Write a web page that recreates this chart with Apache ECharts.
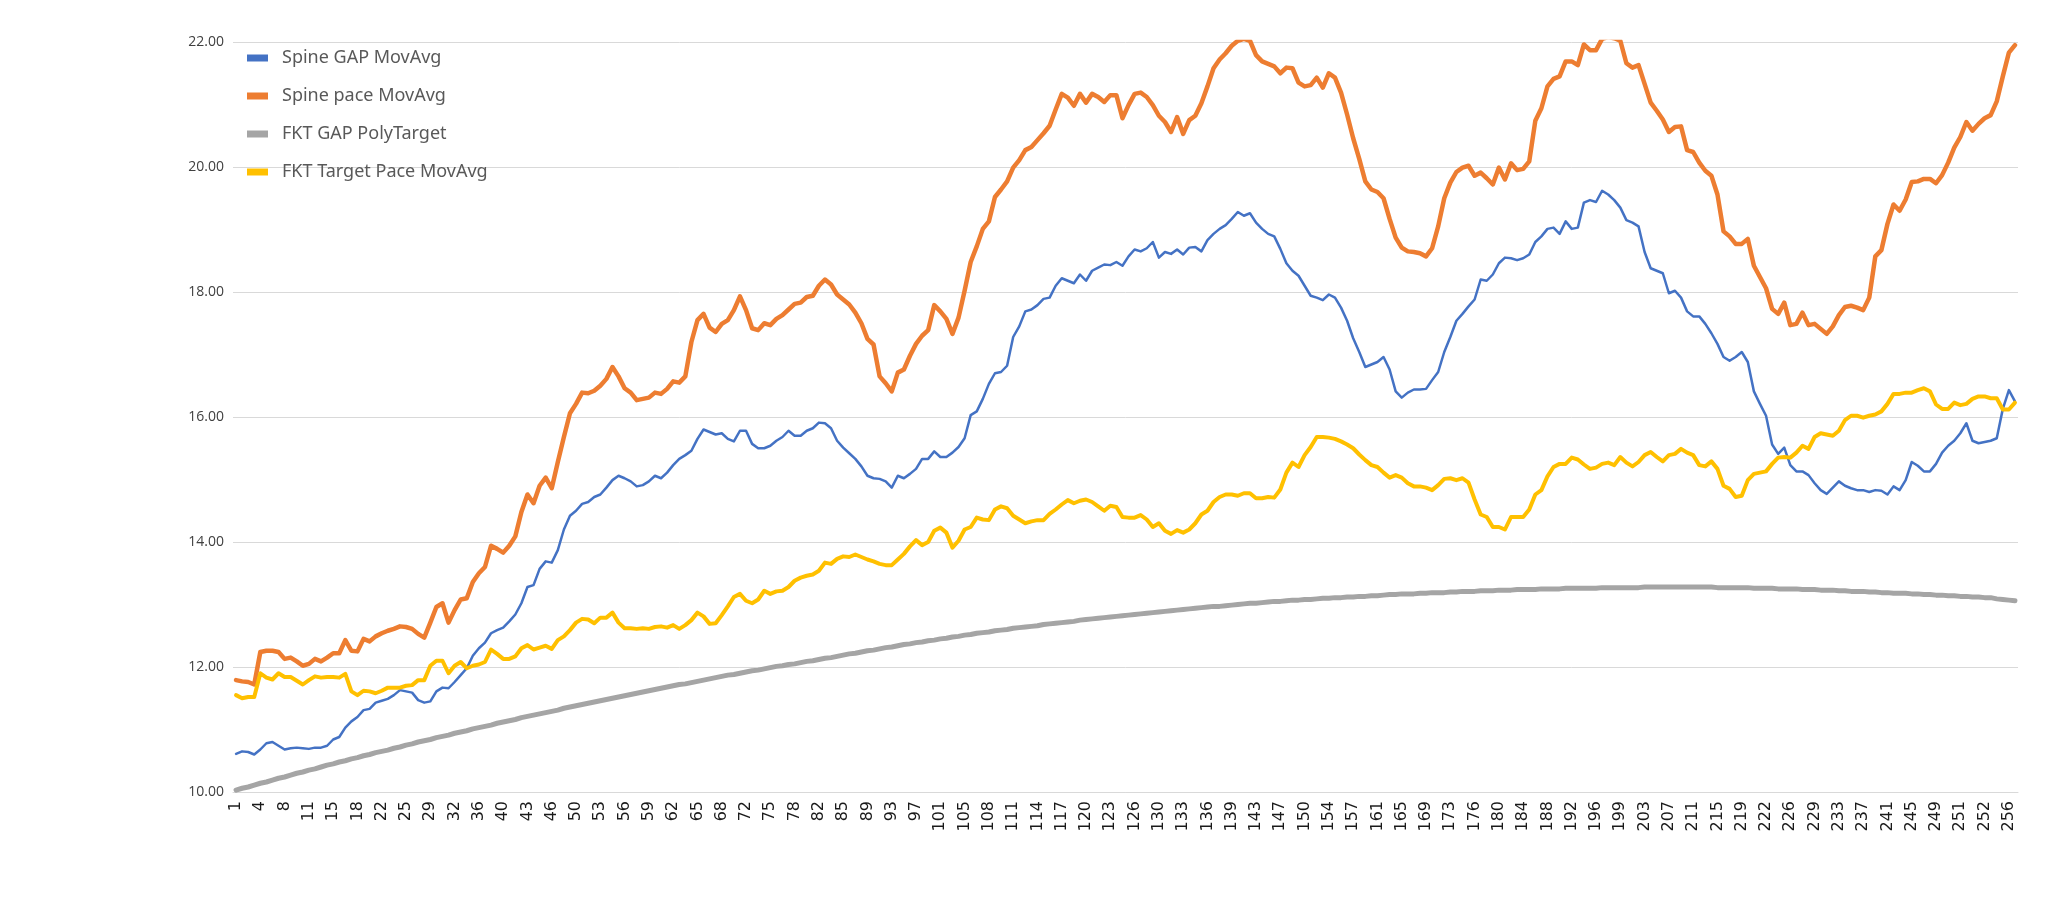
<!DOCTYPE html>
<html>
<head>
<meta charset="utf-8">
<script src="https://cdn.jsdelivr.net/npm/echarts@6/dist/echarts.min.js"></script>
<style>
html,body{margin:0;padding:0;background:#fff;}
#chart{width:2047px;height:903px;}
</style>
</head>
<body>
<div id="chart"></div>
<script>
// Tick labels shown on the category axis (every 4th category)
const tickLabels = [1,4,8,11,15,18,22,25,29,32,36,40,43,46,50,53,56,59,62,65,68,72,75,78,82,85,89,93,97,101,105,108,111,114,117,120,123,126,130,133,136,139,143,147,150,154,157,161,165,169,173,176,180,184,188,192,196,199,203,207,211,215,219,222,226,229,233,237,241,245,249,251,252,256];
const categoryCount = 294;

const seriesNames = ['Spine GAP MovAvg','Spine pace MovAvg','FKT GAP PolyTarget','FKT Target Pace MovAvg'];

const spineGap = [
10.61,10.65,10.64,10.60,10.68,10.78,10.80,10.74,10.68,10.70,
10.71,10.70,10.69,10.71,10.71,10.74,10.84,10.88,11.03,11.13,
11.20,11.31,11.33,11.43,11.46,11.49,11.55,11.63,11.61,11.59,
11.47,11.43,11.45,11.61,11.67,11.66,11.76,11.87,11.98,12.18,
12.30,12.39,12.54,12.59,12.63,12.73,12.84,13.02,13.28,13.31,
13.57,13.69,13.67,13.87,14.20,14.42,14.50,14.61,14.64,14.72,
14.76,14.87,14.99,15.06,15.02,14.97,14.89,14.91,14.97,15.06,
15.02,15.11,15.23,15.33,15.39,15.46,15.65,15.80,15.76,15.72,
15.74,15.65,15.61,15.78,15.78,15.57,15.50,15.50,15.54,15.62,
15.68,15.78,15.70,15.70,15.78,15.82,15.91,15.90,15.82,15.62,
15.51,15.42,15.33,15.21,15.06,15.02,15.01,14.97,14.87,15.06,
15.02,15.09,15.17,15.33,15.33,15.45,15.36,15.36,15.43,15.52,
15.66,16.03,16.09,16.29,16.53,16.70,16.72,16.82,17.28,17.45,
17.69,17.72,17.79,17.89,17.91,18.10,18.22,18.18,18.14,18.28,
18.18,18.34,18.39,18.44,18.43,18.48,18.42,18.57,18.68,18.65,
18.70,18.80,18.55,18.64,18.61,18.68,18.60,18.71,18.72,18.65,
18.83,18.93,19.01,19.07,19.17,19.28,19.22,19.26,19.11,19.01,
18.93,18.89,18.69,18.46,18.34,18.26,18.10,17.94,17.91,17.87,
17.96,17.91,17.75,17.54,17.26,17.04,16.80,16.84,16.88,16.96,
16.76,16.41,16.31,16.39,16.44,16.44,16.45,16.59,16.72,17.04,
17.28,17.54,17.65,17.77,17.88,18.20,18.18,18.28,18.46,18.55,
18.54,18.51,18.54,18.60,18.80,18.89,19.01,19.03,18.93,19.13,
19.01,19.03,19.43,19.47,19.44,19.62,19.56,19.47,19.35,19.15,
19.11,19.05,18.64,18.38,18.34,18.30,17.98,18.02,17.91,17.69,
17.61,17.61,17.49,17.34,17.17,16.96,16.90,16.96,17.04,16.88,
16.41,16.21,16.02,15.56,15.41,15.51,15.23,15.13,15.13,15.07,
14.94,14.83,14.77,14.87,14.97,14.90,14.86,14.83,14.83,14.80,
14.83,14.82,14.76,14.89,14.83,14.99,15.28,15.22,15.13,15.13,
15.25,15.43,15.54,15.62,15.74,15.90,15.62,15.58,15.60,15.62,
15.66,16.13,16.43,16.25
];

const spinePace = [
11.79,11.77,11.76,11.72,12.24,12.26,12.26,12.24,12.13,12.15,
12.09,12.02,12.05,12.13,12.09,12.15,12.22,12.22,12.43,12.26,
12.25,12.45,12.41,12.49,12.54,12.58,12.61,12.65,12.64,12.61,
12.53,12.47,12.71,12.96,13.02,12.71,12.91,13.08,13.10,13.36,
13.50,13.60,13.94,13.89,13.83,13.94,14.09,14.48,14.76,14.62,
14.90,15.03,14.86,15.28,15.68,16.06,16.21,16.39,16.38,16.42,
16.50,16.61,16.80,16.65,16.46,16.39,16.27,16.29,16.31,16.39,
16.37,16.45,16.57,16.55,16.65,17.20,17.55,17.65,17.43,17.36,
17.49,17.55,17.71,17.93,17.71,17.42,17.39,17.50,17.47,17.57,
17.63,17.72,17.81,17.83,17.92,17.94,18.10,18.20,18.12,17.96,
17.88,17.80,17.67,17.50,17.25,17.16,16.65,16.54,16.41,16.71,
16.76,16.98,17.17,17.30,17.39,17.79,17.69,17.57,17.33,17.59,
18.02,18.48,18.73,19.01,19.13,19.52,19.64,19.77,19.99,20.11,
20.27,20.32,20.43,20.54,20.66,20.92,21.17,21.11,20.98,21.17,
21.03,21.17,21.12,21.04,21.15,21.15,20.78,20.99,21.17,21.19,
21.12,20.99,20.82,20.72,20.56,20.80,20.53,20.75,20.82,21.02,
21.29,21.58,21.72,21.82,21.94,22.02,22.05,22.02,21.79,21.69,
21.65,21.61,21.50,21.59,21.58,21.35,21.29,21.31,21.43,21.27,
21.50,21.43,21.19,20.84,20.46,20.13,19.77,19.64,19.60,19.50,
19.17,18.87,18.71,18.65,18.64,18.62,18.57,18.70,19.05,19.50,
19.75,19.92,19.99,20.02,19.86,19.91,19.82,19.72,19.99,19.80,
20.06,19.95,19.97,20.09,20.74,20.94,21.29,21.41,21.45,21.69,
21.69,21.63,21.96,21.87,21.87,22.05,22.08,22.06,22.02,21.66,
21.59,21.63,21.33,21.03,20.90,20.76,20.56,20.64,20.65,20.27,
20.24,20.07,19.94,19.86,19.56,18.97,18.89,18.77,18.77,18.85,
18.42,18.24,18.06,17.73,17.65,17.83,17.47,17.49,17.67,17.47,
17.49,17.41,17.33,17.45,17.63,17.76,17.78,17.75,17.71,17.91,
18.57,18.67,19.09,19.40,19.30,19.48,19.76,19.77,19.81,19.81,
19.74,19.87,20.07,20.31,20.48,20.72,20.58,20.69,20.78,20.83,
21.05,21.45,21.83,21.95
];

const fktGapPoly = [
10.03,10.06,10.08,10.11,10.14,10.16,10.19,10.22,10.24,10.27,
10.30,10.32,10.35,10.37,10.40,10.43,10.45,10.48,10.50,10.53,
10.55,10.58,10.60,10.63,10.65,10.67,10.70,10.72,10.75,10.77,
10.80,10.82,10.84,10.87,10.89,10.91,10.94,10.96,10.98,11.01,
11.03,11.05,11.07,11.10,11.12,11.14,11.16,11.19,11.21,11.23,
11.25,11.27,11.29,11.31,11.34,11.36,11.38,11.40,11.42,11.44,
11.46,11.48,11.50,11.52,11.54,11.56,11.58,11.60,11.62,11.64,
11.66,11.68,11.70,11.72,11.73,11.75,11.77,11.79,11.81,11.83,
11.85,11.87,11.88,11.90,11.92,11.94,11.95,11.97,11.99,12.01,
12.02,12.04,12.05,12.07,12.09,12.10,12.12,12.14,12.15,12.17,
12.19,12.21,12.22,12.24,12.26,12.27,12.29,12.31,12.32,12.34,
12.36,12.37,12.39,12.40,12.42,12.43,12.45,12.46,12.48,12.49,
12.51,12.52,12.54,12.55,12.56,12.58,12.59,12.60,12.62,12.63,
12.64,12.65,12.66,12.68,12.69,12.70,12.71,12.72,12.73,12.75,
12.76,12.77,12.78,12.79,12.80,12.81,12.82,12.83,12.84,12.85,
12.86,12.87,12.88,12.89,12.90,12.91,12.92,12.93,12.94,12.95,
12.96,12.97,12.97,12.98,12.99,13.00,13.01,13.02,13.02,13.03,
13.04,13.05,13.05,13.06,13.07,13.07,13.08,13.08,13.09,13.10,
13.10,13.11,13.11,13.12,13.12,13.13,13.13,13.14,13.14,13.15,
13.16,13.16,13.17,13.17,13.17,13.18,13.18,13.19,13.19,13.19,
13.20,13.20,13.21,13.21,13.21,13.22,13.22,13.22,13.23,13.23,
13.23,13.24,13.24,13.24,13.24,13.25,13.25,13.25,13.25,13.26,
13.26,13.26,13.26,13.26,13.26,13.27,13.27,13.27,13.27,13.27,
13.27,13.27,13.28,13.28,13.28,13.28,13.28,13.28,13.28,13.28,
13.28,13.28,13.28,13.28,13.27,13.27,13.27,13.27,13.27,13.27,
13.26,13.26,13.26,13.26,13.25,13.25,13.25,13.25,13.24,13.24,
13.24,13.23,13.23,13.23,13.22,13.22,13.21,13.21,13.21,13.20,
13.20,13.19,13.19,13.18,13.18,13.18,13.17,13.17,13.16,13.16,
13.15,13.15,13.14,13.14,13.13,13.13,13.12,13.12,13.11,13.11,
13.09,13.08,13.07,13.06
];

const fktTargetPace = [
11.55,11.50,11.52,11.52,11.90,11.83,11.80,11.90,11.84,11.84,
11.78,11.72,11.79,11.85,11.83,11.84,11.84,11.83,11.89,11.61,
11.55,11.62,11.61,11.58,11.62,11.67,11.67,11.67,11.70,11.71,
11.79,11.79,12.02,12.10,12.10,11.90,12.02,12.08,11.98,12.02,
12.04,12.08,12.28,12.21,12.13,12.13,12.17,12.30,12.35,12.28,
12.31,12.34,12.29,12.43,12.49,12.59,12.71,12.77,12.76,12.70,
12.79,12.79,12.87,12.71,12.62,12.62,12.61,12.62,12.61,12.64,
12.65,12.63,12.67,12.61,12.67,12.75,12.87,12.81,12.69,12.70,
12.83,12.97,13.12,13.17,13.06,13.02,13.08,13.22,13.17,13.21,
13.22,13.28,13.38,13.43,13.46,13.48,13.54,13.67,13.65,13.73,
13.77,13.76,13.80,13.76,13.72,13.69,13.65,13.63,13.63,13.72,
13.81,13.93,14.03,13.95,14.00,14.18,14.23,14.15,13.91,14.02,
14.20,14.24,14.39,14.36,14.35,14.52,14.57,14.54,14.42,14.36,
14.30,14.33,14.35,14.35,14.45,14.52,14.60,14.67,14.62,14.66,
14.68,14.64,14.57,14.50,14.58,14.56,14.40,14.39,14.39,14.43,
14.36,14.24,14.30,14.18,14.13,14.19,14.15,14.20,14.30,14.44,
14.50,14.64,14.72,14.76,14.76,14.74,14.78,14.78,14.70,14.70,
14.72,14.71,14.84,15.11,15.27,15.20,15.39,15.52,15.68,15.68,
15.67,15.65,15.61,15.56,15.50,15.40,15.31,15.23,15.20,15.11,
15.03,15.07,15.03,14.94,14.89,14.89,14.87,14.83,14.91,15.01,
15.02,14.99,15.02,14.95,14.68,14.44,14.40,14.24,14.24,14.20,
14.40,14.40,14.40,14.52,14.76,14.83,15.05,15.20,15.25,15.25,
15.35,15.32,15.24,15.17,15.19,15.25,15.27,15.23,15.36,15.27,
15.21,15.28,15.39,15.44,15.36,15.29,15.39,15.41,15.49,15.43,
15.39,15.23,15.21,15.29,15.17,14.90,14.85,14.72,14.74,14.99,
15.09,15.11,15.13,15.25,15.35,15.36,15.35,15.43,15.54,15.49,
15.68,15.74,15.72,15.70,15.78,15.95,16.02,16.02,15.99,16.02,
16.04,16.09,16.21,16.37,16.37,16.39,16.39,16.43,16.46,16.41,
16.20,16.13,16.13,16.23,16.19,16.21,16.29,16.33,16.33,16.30,
16.30,16.12,16.12,16.23
];

const colors = ['#4472C4','#ED7D31','#A5A5A5','#FFC000'];

// Category axis: one entry per data point, a tick label every 4th point
const categories = [];
for (let i = 0; i < categoryCount; i++) {
  categories.push(i % 4 === 0 ? String(tickLabels[i / 4]) : '');
}

const chart = echarts.init(document.getElementById('chart'), null, {renderer: 'canvas'});
const widths = [2.5, 4.5, 5, 4];
const datas = [spineGap, spinePace, fktGapPoly, fktTargetPace];

chart.setOption({
  animation: false,
  backgroundColor: '#ffffff',
  color: colors,
  grid: {left: 233, right: 29, top: 42, bottom: 111, containLabel: false},
  legend: {
    orient: 'vertical',
    left: 247,
    top: 48,
    padding: 0,
    itemGap: 18,
    itemWidth: 21,
    itemHeight: 7,
    icon: 'rect',
    data: seriesNames,
    textStyle: {color: '#595959', fontSize: 18, fontFamily: 'Noto Sans', lineHeight: 20, padding: [0, 0, 0, 9]}
  },
  xAxis: {
    type: 'category',
    data: categories,
    boundaryGap: true,
    axisLine: {show: true, lineStyle: {color: '#d9d9d9', width: 1}},
    axisTick: {show: false},
    splitLine: {show: false},
    axisLabel: {
      interval: 3,
      rotate: 90,
      margin: 9,
      color: '#1a1a1a',
      fontSize: 16,
      fontFamily: 'DejaVu Sans'
    }
  },
  yAxis: {
    type: 'value',
    min: 10,
    max: 22,
    interval: 2,
    axisLine: {show: false},
    axisTick: {show: false},
    splitLine: {show: true, lineStyle: {color: '#d9d9d9', width: 1}},
    axisLabel: {
      margin: 9,
      color: '#404040',
      fontSize: 14,
      fontFamily: 'Open Sans',
      formatter: v => v.toFixed(2)
    }
  },
  series: seriesNames.map((name, k) => ({
    name: name,
    type: 'line',
    data: datas[k],
    showSymbol: false,
    symbol: 'none',
    clip: true,
    lineStyle: {width: widths[k], color: colors[k], join: 'round', cap: 'round'},
    itemStyle: {color: colors[k]},
    emphasis: {disabled: true}
  }))
});
</script>
</body>
</html>
